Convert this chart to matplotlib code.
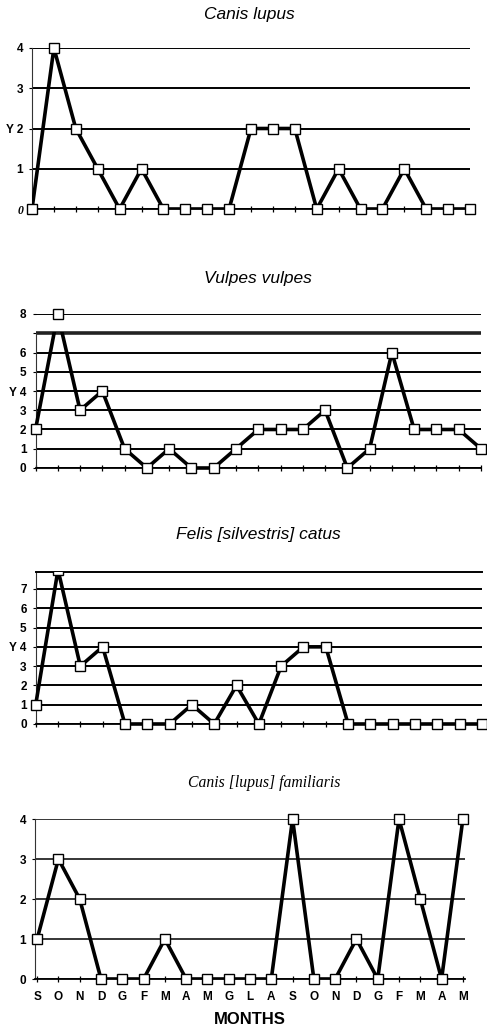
import matplotlib
matplotlib.use("Agg")
import matplotlib.pyplot as plt
from matplotlib.patches import Rectangle

months = ["S", "O", "N", "D", "G", "F", "M", "A", "M", "G", "L",
          "A", "S", "O", "N", "D", "G", "F", "M", "A", "M"]

canis_lupus = [0, 4, 2, 1, 0, 1, 0, 0, 0, 0, 2, 2, 2, 0, 1, 0, 0, 1, 0, 0, 0]
vulpes_vulpes = [2, 8, 3, 4, 1, 0, 1, 0, 0, 1, 2, 2, 2, 3, 0, 1, 6, 2, 2, 2, 1]
felis_catus = [1, 8, 3, 4, 0, 0, 0, 1, 0, 2, 0, 3, 4, 4, 0, 0, 0, 0, 0, 0, 0]
canis_familiaris = [1, 3, 2, 0, 0, 0, 1, 0, 0, 0, 0, 0, 4, 0, 0, 1, 0, 4, 2, 0, 4]

titles = ["Canis lupus", "Vulpes vulpes", "Felis [silvestris] catus",
          "Canis [lupus] familiaris"]

yt1 = [0, 1, 2, 3, 4]
yl1 = ["0", "1", "Y 2", "3", "4"]
yt2 = [0, 1, 2, 3, 4, 5, 6, 7, 8]
yl2 = ["0", "1", "2", "3", "Y 4", "5", "6", "", "8"]
yt3 = [0, 1, 2, 3, 4, 5, 6, 7]
yl3 = ["0", "1", "2", "3", "Y 4", "5", "6", "7"]
yt4 = [0, 1, 2, 3, 4]
yl4 = ["0", "1", "2", "3", "4"]

W, H = 487, 1031
fig = plt.figure(figsize=(W / 100, H / 100), dpi=100)
fig.patch.set_facecolor("white")

SANS = "Liberation Sans"
SERIF = "Liberation Serif"
TICK_FS = 8.5


def make_ax(left, right, top, bottom):
    return fig.add_axes([left / W, 1 - bottom / H, (right - left) / W, (bottom - top) / H])


def style(ax, yt, yl, ylim, xlim, grid_lw=1.4):
    x = list(range(len(months)))
    ax.set_xlim(*xlim)
    ax.set_ylim(*ylim)
    ax.set_yticks(yt)
    ax.set_yticklabels(yl, fontfamily=SANS, fontweight="bold", fontsize=TICK_FS)
    ax.set_xticks(x)
    ax.set_xticklabels([])
    for s in ["top", "right"]:
        ax.spines[s].set_visible(False)
    ax.spines["left"].set_linewidth(0.8)
    ax.spines["left"].set_color("#333333")
    ax.spines["bottom"].set_linewidth(1.3)
    ax.tick_params(axis="y", length=2.5, width=0.8, pad=4, colors="black")
    ax.tick_params(axis="x", direction="inout", length=5, width=0.9)
    ax.yaxis.grid(True, color="black", linewidth=grid_lw)
    ax.set_axisbelow(True)
    return x


def plot_series(ax, x, y, line_top=None, marker_top=None):
    line, = ax.plot(x, y, color="black", linewidth=2.6, zorder=3)
    if line_top is not None:
        r = Rectangle((-5, -5), 40, line_top + 5, transform=ax.transData)
        line.set_clip_path(r)
    mk, = ax.plot(x, y, linestyle="none", marker="s", markersize=7.8,
                  markerfacecolor="white", markeredgecolor="black",
                  markeredgewidth=1.0, zorder=4, clip_on=False)
    if marker_top is not None:
        mk.set_clip_on(True)
        r2 = Rectangle((-5, -5), 40, marker_top + 5, transform=ax.transData)
        mk.set_clip_path(r2)
    return line, mk


# Panel 1: Canis lupus
ax1 = make_ax(32, 470, 48, 209)
x = style(ax1, yt1, yl1, (0, 4), (0, 20))
plot_series(ax1, x, canis_lupus)
ax1.get_yticklabels()[0].set_fontfamily(SERIF)
ax1.get_yticklabels()[0].set_fontstyle("italic")
fig.text(249 / W, 1 - 14 / H, titles[0], ha="center", va="center",
         fontfamily=SANS, fontstyle="italic", fontsize=12.5)

# Panel 2: Vulpes vulpes
ax2 = make_ax(35.5, 481, 314, 468)
x = style(ax2, yt2, yl2, (0, 8), (0, 20))
ax2.spines["left"].set_bounds(0, 7)
gl = ax2.get_ygridlines()
gl[7].set_linewidth(2.6)
gl[7].set_color("#222222")
plot_series(ax2, x, vulpes_vulpes, line_top=7.05)
fig.text(258 / W, 1 - 278 / H, titles[1], ha="center", va="center",
         fontfamily=SANS, fontstyle="italic", fontsize=12.5)

# Panel 3: Felis catus
ax3 = make_ax(35.7, 482, 572, 724)
x = style(ax3, yt3, yl3, (0, 7.88), (0, 20))
ax3.spines["top"].set_visible(True)
ax3.spines["top"].set_linewidth(1.4)
plot_series(ax3, x, felis_catus, line_top=7.88, marker_top=7.88)
fig.text(258 / W, 1 - 535 / H, titles[2], ha="center", va="center",
         fontfamily=SANS, fontstyle="italic", fontsize=12.5)

# Panel 4: Canis familiaris
ax4 = make_ax(35, 465, 819, 979)
x = style(ax4, yt4, yl4, (0, 4), (-0.1, 20.1), grid_lw=1.1)
plot_series(ax4, x, canis_familiaris)
ax4.set_xticklabels(months, fontfamily=SANS, fontweight="bold", fontsize=TICK_FS)
ax4.tick_params(axis="x", pad=6)
fig.text(264 / W, 1 - 783 / H, titles[3], ha="center", va="center",
         fontfamily=SERIF, fontstyle="italic", fontsize=11.3)
fig.text(250 / W, 1 - 1020 / H, "MONTHS", ha="center", va="center",
         fontfamily=SANS, fontweight="bold", fontsize=12)

fig.savefig("out.png", dpi=100)
